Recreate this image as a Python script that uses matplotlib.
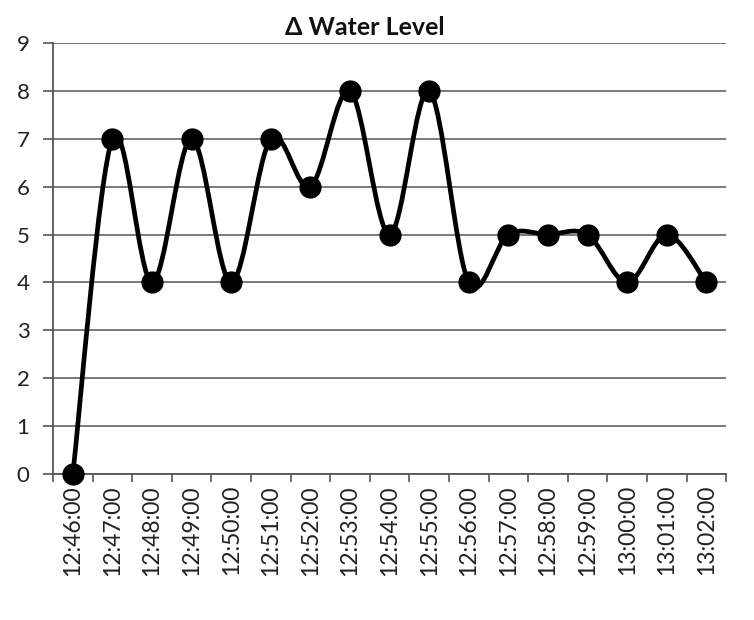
import numpy as np
import matplotlib
matplotlib.use("Agg")
import matplotlib.pyplot as plt
from matplotlib.path import Path
from matplotlib.patches import PathPatch

plt.rcParams['font.family'] = ['Lato', 'DejaVu Sans']

times = ["12:46:00", "12:47:00", "12:48:00", "12:49:00", "12:50:00", "12:51:00",
         "12:52:00", "12:53:00", "12:54:00", "12:55:00", "12:56:00", "12:57:00",
         "12:58:00", "12:59:00", "13:00:00", "13:01:00", "13:02:00"]
water_level = [0, 7, 4, 7, 4, 7, 6, 8, 5, 8, 4, 5, 5, 5, 4, 5, 4]
y_ticks = list(range(0, 10))

fig = plt.figure(figsize=(7.54, 6.2), dpi=100)
ax = fig.add_axes([0.0703, 0.2355, 0.8927, 0.6951])

x = np.arange(len(times), dtype=float)
y = np.array(water_level, dtype=float)

ax.set_xlim(-0.5, len(times) - 0.5)
ax.set_ylim(0, 9)

# Smoothed line: cardinal (Catmull-Rom) Bezier segments through every point
fig.canvas.draw()
pts = ax.transData.transform(np.column_stack([x, y]))
n = len(pts)
verts = [pts[0]]
codes = [Path.MOVETO]
for i in range(n - 1):
    p0 = pts[i - 1] if i > 0 else pts[i]
    p1 = pts[i]
    p2 = pts[i + 1]
    p3 = pts[i + 2] if i + 2 < n else pts[i + 1]
    c1 = p1 + (p2 - p0) / 6.0
    c2 = p2 - (p3 - p1) / 6.0
    verts += [c1, c2, p2]
    codes += [Path.CURVE4] * 3
disp_path = Path(verts, codes)
data_path = ax.transData.inverted().transform_path(disp_path)
ax.add_patch(PathPatch(data_path, facecolor='none', edgecolor='black',
                       lw=3.4, zorder=3, capstyle='round', joinstyle='round'))
ax.plot(x, y, linestyle='none', marker='o', markersize=15,
        color='black', zorder=4, clip_on=False)

# Axes styling
ax.set_yticks(y_ticks)
ax.set_yticklabels([str(v) for v in y_ticks])
ax.set_xticks(np.arange(-0.5, len(times), 1.0))
ax.set_xticklabels([])
ax.set_xticks(x, minor=True)
ax.set_xticklabels(times, minor=True, rotation=90)
ax.tick_params(axis='x', which='minor', length=0, pad=8, labelsize=16.5, colors='#222222')
ax.tick_params(axis='x', which='major', length=6, width=1.2, color='#555555')
ax.tick_params(axis='y', length=7, width=1.2, color='#555555', pad=10,
               labelsize=16, labelcolor='#222222')

ax.grid(axis='y', color='#7a7a7a', linewidth=1.4, linestyle='-')
ax.set_axisbelow(True)
for side in ('top', 'right'):
    ax.spines[side].set_visible(False)
for side in ('left', 'bottom'):
    ax.spines[side].set_color('#555555')
    ax.spines[side].set_linewidth(1.3)

fig.text(0.484, 0.956, "Δ Water Level", fontsize=18, fontweight='bold',
         ha='center', va='center', color='#111111')

fig.savefig("out.png", dpi=100, facecolor='white')
